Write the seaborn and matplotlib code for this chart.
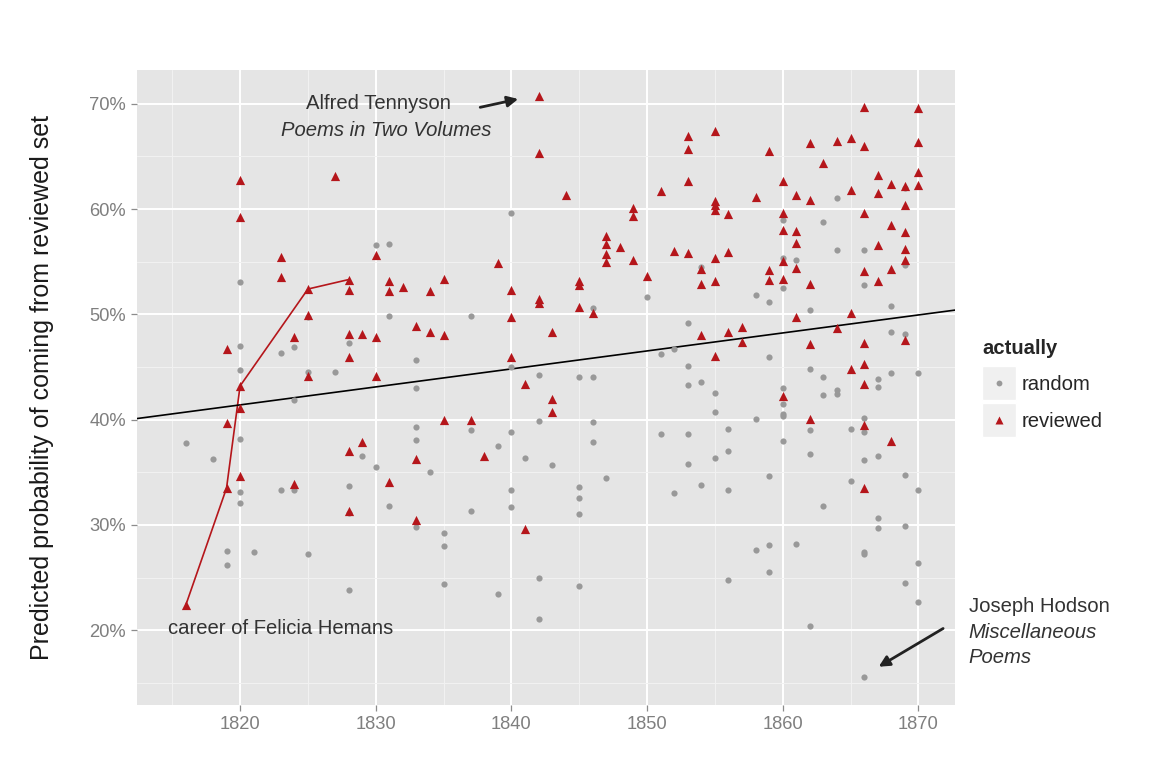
import matplotlib
matplotlib.use("Agg")
import pandas as pd
import matplotlib.pyplot as plt
from matplotlib.lines import Line2D
from matplotlib.patches import Rectangle
from matplotlib.ticker import FixedLocator, FuncFormatter
import seaborn as sns

# --------------------------
# Dados (ano, probabilidade prevista em %)
# --------------------------
random_year = [
    1816, 1818, 1819, 1819,
    1820, 1820, 1820, 1820, 1820, 1820, 1821,
    1823, 1823, 1824, 1824, 1824, 1825, 1825, 1825, 1827,
    1828, 1828, 1828, 1828, 1829, 1830, 1830, 1831, 1831, 1831,
    1833, 1833, 1833, 1833, 1833, 1834, 1835, 1835, 1835,
    1837, 1837, 1837, 1839, 1839,
    1840, 1840, 1840, 1840, 1840, 1841, 1842, 1842, 1842, 1842, 1843,
    1845, 1845, 1845, 1845, 1845, 1846, 1846, 1846, 1846, 1847,
    1850, 1851, 1851, 1852, 1852,
    1853, 1853, 1853, 1853, 1853, 1854, 1854, 1854, 1855, 1855, 1855,
    1856, 1856, 1856, 1856, 1858, 1858, 1858,
    1859, 1859, 1859, 1859, 1859,
    1860, 1860, 1860, 1860, 1860, 1860, 1860, 1860, 1861, 1861,
    1862, 1862, 1862, 1862, 1862, 1863, 1863, 1863, 1863,
    1864, 1864, 1864, 1864, 1865, 1865,
    1866, 1866, 1866, 1866, 1866, 1866, 1866, 1866,
    1867, 1867, 1867, 1867, 1867, 1868, 1868, 1868,
    1869, 1869, 1869, 1869, 1869, 1869, 1870, 1870, 1870, 1870,
]
random_prob = [
    37.8, 36.3, 27.5, 26.2,
    53.1, 47.0, 44.7, 38.2, 33.1, 32.1, 27.4,
    46.3, 33.3, 46.9, 41.9, 33.3, 49.7, 44.5, 27.2, 44.5,
    47.3, 33.7, 31.1, 23.8, 36.5, 56.6, 35.5, 56.7, 49.8, 31.8,
    45.7, 43.0, 39.3, 38.1, 29.8, 35.0, 29.2, 28.0, 24.4,
    49.8, 39.0, 31.3, 37.5, 23.4,
    59.6, 45.0, 38.8, 33.3, 31.7, 36.4, 44.2, 39.9, 25.0, 21.1, 35.7,
    44.0, 33.6, 32.6, 31.0, 24.2, 50.6, 44.0, 39.8, 37.9, 34.5,
    51.6, 46.2, 38.6, 46.7, 33.0,
    49.2, 45.1, 43.3, 38.6, 35.8, 54.5, 43.6, 33.8, 42.5, 40.7, 36.4,
    39.1, 37.0, 33.3, 24.8, 51.8, 40.1, 27.6,
    51.2, 45.9, 34.6, 28.1, 25.5,
    59.0, 55.3, 52.5, 43.0, 41.5, 40.5, 40.3, 38.0, 55.2, 28.2,
    50.4, 44.8, 39.0, 36.7, 20.4, 58.8, 44.0, 42.3, 31.8,
    61.0, 56.1, 42.8, 42.4, 39.1, 34.2,
    56.1, 52.8, 40.2, 38.8, 36.2, 27.4, 27.2, 15.6,
    43.9, 43.1, 36.5, 30.7, 29.7, 50.8, 48.3, 44.4,
    62.0, 54.7, 48.1, 34.7, 29.9, 24.5, 44.4, 33.3, 26.4, 22.7,
]

reviewed_year = [
    1816, 1819, 1819, 1819, 1820, 1820, 1820, 1820, 1820,
    1823, 1823, 1824, 1824, 1825, 1825, 1825, 1827,
    1828, 1828, 1828, 1828, 1828, 1828, 1829, 1829, 1830, 1830, 1830,
    1831, 1831, 1831, 1832, 1833, 1833, 1833, 1834, 1834,
    1835, 1835, 1835, 1837, 1838, 1839, 1840, 1840, 1840, 1841, 1841,
    1842, 1842, 1842, 1842, 1843, 1843, 1843, 1844, 1845, 1845, 1845, 1846,
    1847, 1847, 1847, 1847, 1848, 1849, 1849, 1849, 1850, 1851, 1852,
    1853, 1853, 1853, 1853, 1854, 1854, 1854,
    1855, 1855, 1855, 1855, 1855, 1855, 1855, 1856, 1856, 1856, 1857, 1857,
    1858, 1859, 1859, 1859, 1860, 1860, 1860, 1860, 1860, 1860,
    1861, 1861, 1861, 1861, 1861, 1862, 1862, 1862, 1862, 1862, 1863,
    1864, 1864, 1865, 1865, 1865, 1865,
    1866, 1866, 1866, 1866, 1866, 1866, 1866, 1866, 1866,
    1867, 1867, 1867, 1867, 1868, 1868, 1868, 1868,
    1869, 1869, 1869, 1869, 1869, 1869, 1870, 1870, 1870, 1870,
]
reviewed_prob = [
    22.4, 46.7, 39.7, 33.5, 62.8, 59.2, 43.2, 41.1, 34.6,
    55.4, 53.5, 47.8, 33.9, 52.4, 49.9, 44.1, 63.1,
    53.3, 52.3, 48.1, 45.9, 37.0, 31.3, 48.1, 37.9, 55.6, 47.8, 44.1,
    53.2, 52.2, 34.1, 52.6, 48.9, 36.3, 30.5, 52.2, 48.3,
    53.4, 48.0, 40.0, 40.0, 36.5, 54.9, 52.3, 49.7, 45.9, 43.4, 29.6,
    70.7, 65.3, 51.5, 51.1, 48.3, 42.0, 40.7, 61.3, 53.2, 52.8, 50.7, 50.1,
    57.4, 56.7, 55.7, 55.0, 56.4, 60.1, 59.3, 55.2, 53.6, 61.7, 56.0,
    66.9, 65.7, 62.7, 55.8, 54.3, 52.9, 48.0,
    67.4, 60.8, 60.4, 59.9, 55.3, 53.2, 46.0, 59.5, 55.9, 48.3, 48.8, 47.4,
    61.1, 65.5, 54.2, 53.3, 62.7, 59.6, 58.0, 55.1, 53.4, 42.2,
    61.3, 57.9, 56.8, 54.4, 49.7, 66.3, 60.9, 52.9, 47.2, 40.1, 64.4,
    66.5, 48.7, 66.7, 61.8, 50.1, 44.8,
    69.7, 66.0, 59.6, 54.1, 47.3, 45.3, 43.4, 39.5, 33.5,
    63.2, 61.5, 56.6, 53.2, 62.4, 58.5, 54.3, 38.0,
    62.2, 60.4, 57.8, 56.2, 55.2, 47.6, 69.6, 66.4, 63.5, 62.3,
]

# carreira de Felicia Hemans
hemans_year = [1816, 1819, 1820, 1825, 1828]
hemans_prob = [22.4, 33.5, 43.2, 52.4, 53.3]

# reta ajustada (dois pontos nas bordas do painel)
fit_year = [1812.4, 1872.7]
fit_prob = [40.1, 50.4]

x_ticks = [1820, 1830, 1840, 1850, 1860, 1870]
x_minor = [1815, 1825, 1835, 1845, 1855, 1865]
y_ticks = [20, 30, 40, 50, 60, 70]
y_minor = [15, 25, 35, 45, 55, 65]

cor_random = "#999999"
cor_reviewed = "#B5161B"

# --------------------------
# Estilo
# --------------------------
sns.set_theme(style="darkgrid", rc={
    "axes.facecolor": "#E5E5E5",
    "axes.edgecolor": "#E5E5E5",
    "grid.color": "white",
    "figure.facecolor": "white",
})
plt.rcParams["font.family"] = ["Liberation Sans", "DejaVu Sans"]

df_random = pd.DataFrame({"ano": random_year, "prob": random_prob})
df_reviewed = pd.DataFrame({"ano": reviewed_year, "prob": reviewed_prob})

fig = plt.figure(figsize=(11.54, 7.73), dpi=100)
ax = fig.add_axes([137 / 1154, 1 - 705 / 773, (955 - 137) / 1154, (705 - 70) / 773])

sns.scatterplot(data=df_random, x="ano", y="prob", color=cor_random, marker="o",
                s=20, linewidth=0, ax=ax, zorder=3)
ax.plot(hemans_year, hemans_prob, color=cor_reviewed, lw=1.2, zorder=2)
sns.scatterplot(data=df_reviewed, x="ano", y="prob", color=cor_reviewed, marker="^",
                s=44, linewidth=0, ax=ax, zorder=4)
ax.axline((fit_year[0], fit_prob[0]), (fit_year[1], fit_prob[1]), color="black", lw=1.2, zorder=2)

ax.set_xlim(1812.4, 1872.7)
ax.set_ylim(12.9, 73.2)
ax.xaxis.set_major_locator(FixedLocator(x_ticks))
ax.xaxis.set_minor_locator(FixedLocator(x_minor))
ax.yaxis.set_major_locator(FixedLocator(y_ticks))
ax.yaxis.set_minor_locator(FixedLocator(y_minor))
ax.yaxis.set_major_formatter(FuncFormatter(lambda v, p: f"{v:.0f}%"))
ax.grid(which="major", color="white", lw=1.4)
ax.grid(which="minor", color="#F2F2F2", lw=0.7)
ax.tick_params(which="major", bottom=True, left=True, length=4, width=0.9, color="#8C8C8C",
               labelsize=13.2, labelcolor="#7F7F7F", pad=4)
ax.tick_params(which="minor", length=0)
for s in ax.spines.values():
    s.set_visible(False)

ax.set_xlabel("")
ax.set_ylabel("Predicted probability of coming from reviewed set", fontsize=18,
              color="#1A1A1A", labelpad=25)

# --------------------------
# Anotações
# --------------------------
txt = dict(fontsize=14.6, color="#333333")
ax.text(1830.2, 70.0, "Alfred Tennyson", ha="center", va="center", **txt)
ax.text(1830.8, 67.5, "Poems in Two Volumes", ha="center", va="center", style="italic", **txt)
ax.annotate("", xy=(1840.7, 70.5), xytext=(1837.5, 69.6),
            arrowprops=dict(arrowstyle="-|>", color="#222222", lw=2, mutation_scale=16))
ax.text(1823.0, 20.2, "career of Felicia Hemans", ha="center", va="center", **txt)

ax.text(1873.7, 22.3, "Joseph Hodson", ha="left", va="center", clip_on=False, **txt)
ax.text(1873.7, 19.8, "Miscellaneous", ha="left", va="center", style="italic", clip_on=False, **txt)
ax.text(1873.7, 17.4, "Poems", ha="left", va="center", style="italic", clip_on=False, **txt)
ax.annotate("", xy=(1866.9, 16.4), xytext=(1872.0, 20.3), annotation_clip=False,
            arrowprops=dict(arrowstyle="-|>", color="#222222", lw=2, mutation_scale=16))

# --------------------------
# Legenda
# --------------------------
handles = [
    Line2D([], [], ls="none", marker="o", ms=4.2, mfc=cor_random, mec="none"),
    Line2D([], [], ls="none", marker="^", ms=6.2, mfc=cor_reviewed, mec="none"),
]
leg = fig.legend(handles, ["random", "reviewed"], title="actually", loc="upper left",
                 bbox_to_anchor=(964 / 1154, 1 - 321 / 773), frameon=False, fontsize=14.6,
                 title_fontsize=14.6, handlelength=1.65, handletextpad=0.3,
                 labelspacing=0.85, alignment="left")
leg.get_title().set_fontweight("bold")

fig.canvas.draw()
rend = fig.canvas.get_renderer()
W, H = fig.bbox.width, fig.bbox.height
for h in leg.legend_handles:
    bb = h.get_window_extent(rend)
    cx, cy = (bb.x0 + bb.x1) / 2, (bb.y0 + bb.y1) / 2
    fig.add_artist(Rectangle(((cx - 17) / W, (cy - 17) / H), 34 / W, 34 / H,
                             transform=fig.transFigure, facecolor="#F0F0F0",
                             edgecolor="white", lw=1, zorder=1))

fig.savefig("out.png", dpi=100)
print("Salvo: out.png")
